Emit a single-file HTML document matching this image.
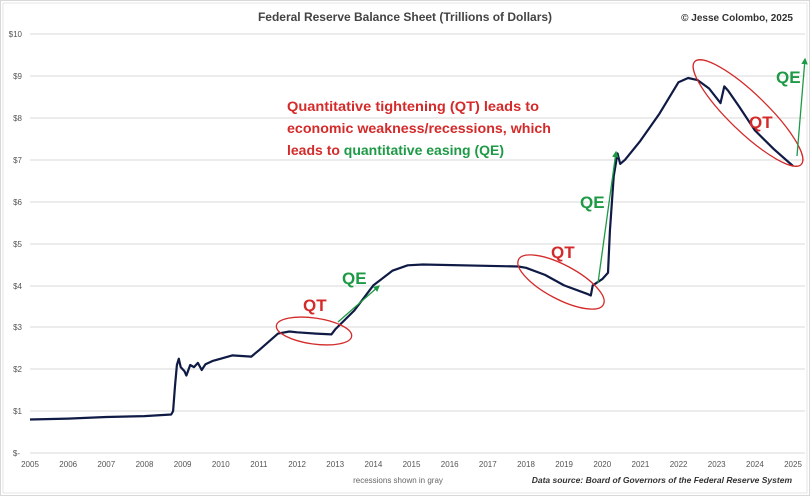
<!DOCTYPE html><html><head><style>body{margin:0;background:#fff}svg{display:block;font-family:"Liberation Sans",sans-serif}</style></head><body>
<svg width="810" height="496" viewBox="0 0 810 496" xmlns="http://www.w3.org/2000/svg">
<defs><marker id="ag" viewBox="0 0 10 10" refX="8" refY="5" markerWidth="5" markerHeight="5" orient="auto"><path d="M0,0L10,5L0,10z" fill="#1e9a46"/></marker></defs>
<rect x="0.5" y="0.5" width="809" height="495" fill="#fff" stroke="#d8d8d8"/>
<rect x="3" y="3" width="804" height="490" fill="none" stroke="#e6e6e6"/>
<text x="405" y="21" text-anchor="middle" font-size="12" font-weight="bold" fill="#444">Federal Reserve Balance Sheet (Trillions of Dollars)</text>
<text x="793" y="21" text-anchor="end" font-size="10" font-weight="bold" fill="#333">© Jesse Colombo, 2025</text>
<g stroke="#d9d9d9" stroke-width="1">
<line x1="30" x2="805" y1="34" y2="34"/><line x1="30" x2="805" y1="76" y2="76"/><line x1="30" x2="805" y1="118" y2="118"/><line x1="30" x2="805" y1="160" y2="160"/><line x1="30" x2="805" y1="202" y2="202"/><line x1="30" x2="805" y1="244" y2="244"/><line x1="30" x2="805" y1="286" y2="286"/><line x1="30" x2="805" y1="327" y2="327"/><line x1="30" x2="805" y1="369" y2="369"/><line x1="30" x2="805" y1="411" y2="411"/><line x1="30" x2="805" y1="453" y2="453"/>
</g>
<g font-size="8" fill="#555" text-anchor="end">
<text x="22" y="37">$10</text><text x="22" y="79">$9</text><text x="22" y="121">$8</text><text x="22" y="163">$7</text><text x="22" y="205">$6</text><text x="22" y="247">$5</text><text x="22" y="289">$4</text><text x="22" y="330">$3</text><text x="22" y="372">$2</text><text x="22" y="414">$1</text><text x="20" y="456">$-</text>
</g>
<g font-size="8" fill="#555" text-anchor="middle">
<text x="30" y="467">2005</text><text x="68.2" y="467">2006</text><text x="106.3" y="467">2007</text><text x="144.5" y="467">2008</text><text x="182.6" y="467">2009</text><text x="220.8" y="467">2010</text><text x="258.9" y="467">2011</text><text x="297.1" y="467">2012</text><text x="335.2" y="467">2013</text><text x="373.4" y="467">2014</text><text x="411.5" y="467">2015</text><text x="449.7" y="467">2016</text><text x="487.8" y="467">2017</text><text x="526" y="467">2018</text><text x="564.1" y="467">2019</text><text x="602.3" y="467">2020</text><text x="640.4" y="467">2021</text><text x="678.6" y="467">2022</text><text x="716.7" y="467">2023</text><text x="754.9" y="467">2024</text><text x="793" y="467">2025</text>
</g>
<text x="398" y="483" text-anchor="middle" font-size="8" fill="#666">recessions shown in gray</text>
<text x="792" y="483" text-anchor="end" font-size="8.5" font-weight="bold" font-style="italic" fill="#333">Data source: Board of Governors of the Federal Reserve System</text>
<polyline id="ln" fill="none" stroke="#0f1a45" stroke-width="2.2" stroke-linejoin="round"/>
<g fill="none" stroke="#d42a2a" stroke-width="1.3">
<ellipse cx="314" cy="331" rx="38" ry="13" transform="rotate(8 314 331)"/>
<ellipse cx="561" cy="282" rx="48" ry="17" transform="rotate(28 561 282)"/>
<ellipse cx="748" cy="113" rx="74" ry="19" transform="rotate(44 748 113)"/>
</g>
<g stroke="#1e9a46" stroke-width="1.3" marker-end="url(#ag)">
<line x1="338" y1="322" x2="379" y2="286"/><line x1="598" y1="283" x2="616" y2="152"/><line x1="797" y1="156" x2="805" y2="59"/>
</g>
<g font-weight="bold" font-size="17">
<text x="303" y="311" fill="#d42a2a">QT</text><text x="342" y="284" fill="#1e9a46">QE</text>
<text x="551" y="258" fill="#d42a2a">QT</text><text x="580" y="208" fill="#1e9a46">QE</text>
<text x="749" y="128" fill="#d42a2a">QT</text><text x="776" y="83" fill="#1e9a46">QE</text>
</g>
<g font-size="14" font-weight="bold" fill="#d42a2a">
<text x="287" y="111" textLength="252" lengthAdjust="spacingAndGlyphs">Quantitative tightening (QT) leads to</text>
<text x="287" y="133" textLength="264" lengthAdjust="spacingAndGlyphs">economic weakness/recessions, which</text>
<text x="287" y="155">leads to <tspan fill="#1e9a46">quantitative easing (QE)</tspan></text>
</g>
<script>
var d=[[2005,.80],[2006,.82],[2007,.86],[2008,.88],[2008.7,.92],[2008.75,1.0],[2008.8,1.6],[2008.85,2.1],[2008.9,2.25],[2008.95,2.05],[2009.05,1.95],[2009.1,1.85],[2009.2,2.1],[2009.3,2.05],[2009.4,2.15],[2009.5,1.98],[2009.6,2.12],[2009.8,2.2],[2010,2.25],[2010.3,2.33],[2010.8,2.3],[2011,2.45],[2011.5,2.85],[2011.8,2.9],[2012,2.88],[2012.5,2.85],[2012.9,2.83],[2013,2.95],[2013.5,3.4],[2014,4.0],[2014.5,4.35],[2014.9,4.48],[2015.3,4.5],[2017.8,4.45],[2018,4.42],[2018.5,4.25],[2019,4.0],[2019.6,3.8],[2019.7,3.76],[2019.75,4.0],[2020,4.15],[2020.15,4.3],[2020.2,5.3],[2020.3,6.6],[2020.4,7.15],[2020.47,6.9],[2020.6,7.0],[2021,7.45],[2021.5,8.1],[2022,8.85],[2022.25,8.95],[2022.5,8.9],[2022.8,8.7],[2023.1,8.35],[2023.2,8.75],[2023.3,8.65],[2023.6,8.25],[2024,7.7],[2024.5,7.25],[2025,6.85]];
document.getElementById('ln').setAttribute('points',d.map(function(p){return (30+(p[0]-2005)*38.15).toFixed(1)+','+(453-p[1]*41.9).toFixed(1)}).join(' '));
</script>
</svg></body></html>
